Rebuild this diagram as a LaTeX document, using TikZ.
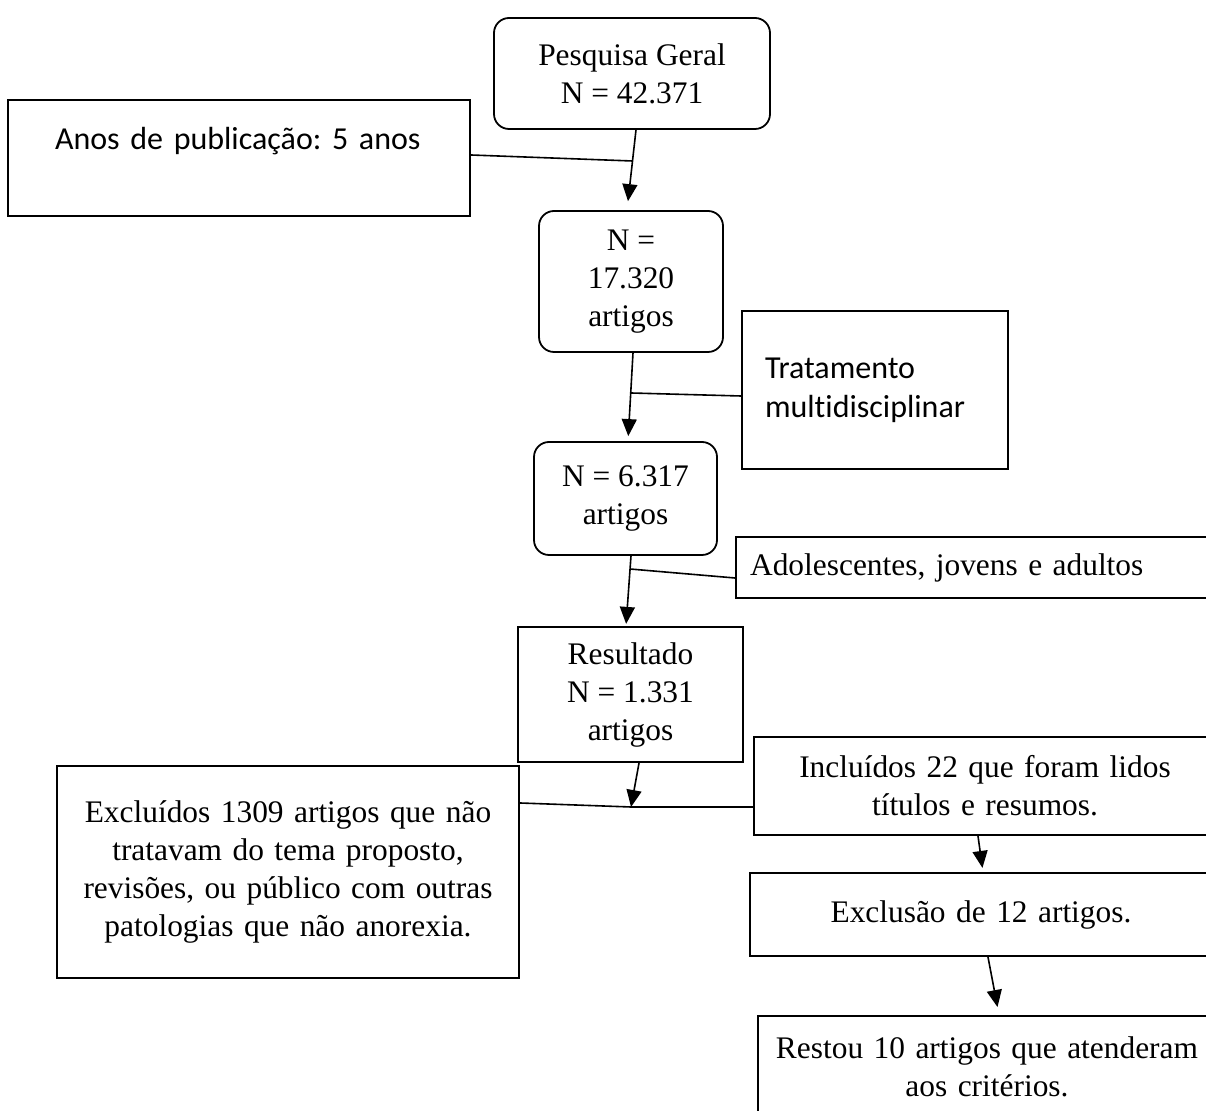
\documentclass[tikz,border=0pt]{standalone}
\usepackage{fontspec}
\setmainfont{Liberation Serif}
\newfontfamily\carlito[Ligatures=NoCommon]{Carlito}
\frenchspacing
\usetikzlibrary{arrows.meta, positioning, calc}

\begin{document}
\begin{tikzpicture}[
    x=0.5pt, y=-0.5pt,
    box/.style={draw, line width=1.1pt, align=center, inner sep=2pt, font=\fontsize{15.7}{19}\selectfont},
    rbox/.style={box, rounded corners=7.5pt, line width=0.9pt},
    note/.style={draw, line width=1pt, align=left, font=\carlito\fontsize{16}{19.5}\selectfont},
    flow/.style={-{Triangle[length=8.5pt, width=7.5pt]}, line width=0.8pt},
    link/.style={line width=0.8pt},
]
  \useasboundingbox (0,0) rectangle (1206,1111);
  \clip (0,0) rectangle (1206,1111);

  % main column
  \node[rbox, minimum width=138pt, minimum height=55.5pt] (geral) at (632,73.5) {Pesquisa Geral\\N = 42.371};
  \node[rbox, minimum width=92pt, minimum height=70.5pt] (n17) at (631,281.5) {N =\\17.320\\artigos};
  \node[rbox, minimum width=91.5pt, minimum height=56.5pt] (n6) at (625.5,498.5) {N = 6.317\\artigos};
  \node[box, minimum width=112.5pt, minimum height=67.5pt] (res) at (630.5,694.5) {Resultado\\N = 1.331\\artigos};

  % filters
  \node[note, text width=184pt, inner xsep=23.5pt, minimum height=58pt, text height=12pt, text depth=20pt] (anos) at (239,158) {\mbox{Anos de publicação: 5 anos}};
  \node[note, text width=110pt, inner xsep=11.5pt, minimum height=79pt] (trat) at (875,390) {Tratamento\\multidisciplinar};
  \node[box, anchor=west, align=left, text width=233pt, inner xsep=7pt, minimum height=30.5pt] (adol) at (735,567.5) {Adolescentes, jovens e adultos};

  % selection
  \node[box, text width=220pt, minimum width=231pt, minimum height=106pt] (excl) at (288,872) {Excluídos 1309 artigos que não\\tratavam do tema proposto,\\revisões, ou público com outras\\patologias que não anorexia.};
  \node[box, text width=220pt, minimum width=231pt, minimum height=49pt] (incl) at (985,786) {Incluídos 22 que foram lidos\\títulos e resumos.};
  \node[box, text width=220pt, minimum width=231pt, minimum height=41.5pt] (exc12) at (981,914.5) {Exclusão de 12 artigos.};
  \node[box, text width=220pt, minimum width=229pt, minimum height=51pt] (rest) at (987,1067) {Restou 10 artigos que atenderam\\aos critérios.};

  \coordinate (j1) at (632.5,161);
  \coordinate (j2) at (631,393);
  \coordinate (j3) at (630,569);
  \coordinate (split) at (631,807);

  \draw[flow, shorten >=4.5pt] ([xshift=2pt]geral.south) -- ([xshift=-2pt]n17.north);
  \draw[link] ([yshift=1.5pt]anos.east) -- (j1);
  \draw[flow, shorten >=2.5pt] ([xshift=1pt]n17.south) -- ([xshift=1.25pt]n6.north);
  \draw[link] (j2) -- ([yshift=-3pt]trat.west);
  \draw[flow, shorten >=1pt] ([xshift=2.75pt]n6.south) -- ([xshift=-2.25pt]res.north);
  \draw[link] (j3) -- ([yshift=-5.25pt]adol.west);
  \draw[flow] ([xshift=4.25pt]res.south) -- (split);
  \draw[link] ([yshift=34.5pt]excl.east) -- (split) -- ([yshift=-10.5pt]incl.west);
  \draw[flow, shorten >=2pt] ([xshift=-3.5pt]incl.south) -- ([xshift=1pt]exc12.north);
  \draw[flow, shorten >=4pt] ([xshift=3.5pt]exc12.south) -- ([xshift=6pt]rest.north);
\end{tikzpicture}
\end{document}
